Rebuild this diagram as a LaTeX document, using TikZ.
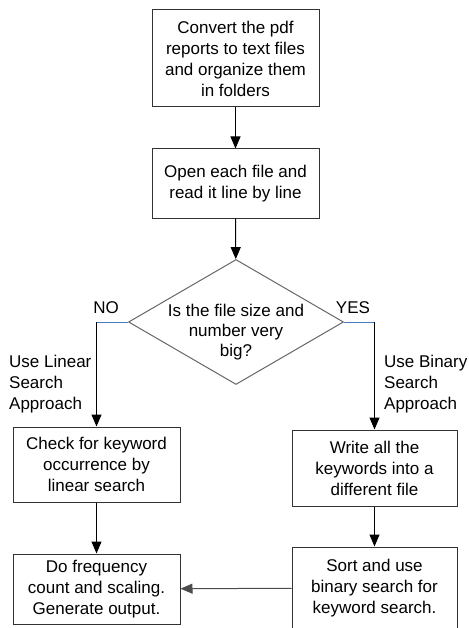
\documentclass[tikz,border=0pt]{standalone}
\usepackage{fontspec}
\setmainfont{Liberation Sans}
\usetikzlibrary{shapes.geometric, arrows.meta}
\definecolor{linkblue}{RGB}{74,122,192}
\tikzset{>={Triangle[length=12pt,width=10pt]}}
\tikzset{
    box/.style={draw=black!80, line width=1pt, align=center, inner sep=0pt,
        font=\fontsize{17}{21}\selectfont},
    decision/.style={draw=black!60, line width=1pt, shape=diamond, inner sep=0pt,
        minimum width=215pt, minimum height=125pt},
    note/.style={align=left, font=\fontsize{17}{21}\selectfont, inner sep=0pt}
}

\begin{document}
\begin{tikzpicture}[x=1pt, y=-1pt]
    \useasboundingbox (0,0) rectangle (468,628);
    \node[box, minimum width=167pt, minimum height=97pt] (convert) at (235.5,58.5)
        {Convert the pdf\\reports to text files\\and organize them\\in folders};
    \node[box, minimum width=167pt, minimum height=69pt] (open) at (235.5,183.5)
        {Open each file and\\read it line by line};
    \node[decision, label={[align=center, font=\fontsize{17}{20}\selectfont, yshift=-10pt]center:Is the file size and\\number very\\big?}] (size) at (236,322) {};
    \node[box, minimum width=167pt, minimum height=75pt] (linear) at (96.5,464.5)
        {Check for keyword\\occurrence by\\linear search};
    \node[box, minimum width=165pt, minimum height=76pt] (write) at (374.5,468)
        {Write all the\\keywords into a\\different file};
    \node[box, minimum width=167pt, minimum height=70pt] (count) at (96.5,589)
        {Do frequency\\count and scaling.\\Generate output.};
    \node[box, minimum width=165pt, minimum height=82pt] (sort) at (374.5,588)
        {Sort and use\\binary search for\\keyword search.};

    % branch labels
    \node[note] (no) at (106,308) {NO};
    \node[note] (yes) at (353,308) {YES};
    \node[note, anchor=west] (uselin) at (9,384) {Use Linear\\Search\\Approach};
    \node[note, anchor=west] (usebin) at (384,384) {Use Binary\\Search\\Approach};

    \draw[->, line width=1pt] (convert) -- (open);
    \draw[->, line width=1pt] (open) -- (size);
    \draw[linkblue, line width=1pt] (size.west) -- (size.west -| linear.north);
    \draw[->, line width=1pt] (size.west -| linear.north) -- (linear.north);
    \draw[linkblue, line width=1pt] (size.east) -- (size.east -| write.north);
    \draw[->, line width=1pt] (size.east -| write.north) -- (write.north);
    \draw[->, line width=1pt] (linear) -- (count);
    \draw[->, line width=1pt] (write) -- (sort);
    \draw[->, line width=1pt, black!70] (sort) -- (count);
\end{tikzpicture}
\end{document}
